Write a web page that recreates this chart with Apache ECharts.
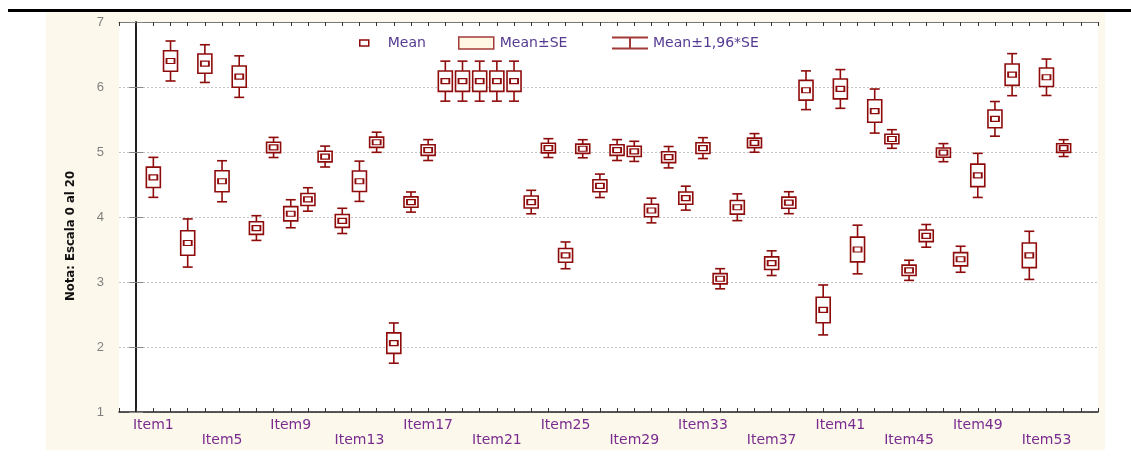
<!DOCTYPE html>
<html>
<head>
<meta charset="utf-8">
<title>Nota por item</title>
<script src="https://cdn.jsdelivr.net/npm/echarts@6/dist/echarts.min.js"></script>
<style>
  html, body { margin: 0; padding: 0; background: #fff; }
  #chart { width: 1131px; height: 460px; }
</style>
</head>
<body>
<div id="chart"></div>
<script>
// item names, means and standard errors
var ITEMS = [
  'Item1', 'Item2', 'Item3', 'Item4', 'Item5', 'Item6', 'Item7', 'Item8', 'Item9', 'Item10',
  'Item11', 'Item12', 'Item13', 'Item14', 'Item15', 'Item16', 'Item17', 'Item18', 'Item19', 'Item20',
  'Item21', 'Item22', 'Item23', 'Item24', 'Item25', 'Item26', 'Item27', 'Item28', 'Item29', 'Item30',
  'Item31', 'Item32', 'Item33', 'Item34', 'Item35', 'Item36', 'Item37', 'Item38', 'Item39', 'Item40',
  'Item41', 'Item42', 'Item43', 'Item44', 'Item45', 'Item46', 'Item47', 'Item48', 'Item49', 'Item50',
  'Item51', 'Item52', 'Item53', 'Item54'
];
var MEANS = [
  4.61, 6.40, 3.60, 6.36, 4.55, 6.16, 3.83, 5.07, 4.05, 4.27,
  4.93, 3.94, 4.55, 5.15, 2.06, 4.23, 5.03, 6.09, 6.09, 6.09,
  6.09, 6.09, 4.23, 5.06, 3.41, 5.05, 4.48, 5.03, 5.01, 4.10,
  4.92, 4.29, 5.06, 3.05, 4.15, 5.14, 3.29, 4.22, 5.95, 2.57,
  5.97, 3.50, 5.63, 5.20, 3.18, 3.71, 4.99, 3.35, 4.64, 5.51,
  6.19, 3.41, 6.15, 5.06
];
var SE = [
  0.157, 0.157, 0.189, 0.148, 0.161, 0.163, 0.097, 0.079, 0.110, 0.092,
  0.082, 0.099, 0.158, 0.079, 0.158, 0.079, 0.082, 0.157, 0.157, 0.157,
  0.157, 0.157, 0.092, 0.074, 0.105, 0.071, 0.092, 0.082, 0.079, 0.097,
  0.084, 0.094, 0.082, 0.079, 0.105, 0.073, 0.097, 0.086, 0.152, 0.196,
  0.152, 0.191, 0.173, 0.073, 0.079, 0.089, 0.071, 0.102, 0.173, 0.136,
  0.165, 0.189, 0.143, 0.066
];
var Y_TICKS = [1, 2, 3, 4, 5, 6, 7];

var RED = '#8e0b0b';
var LEGEND_TXT = '#553a92';

var meanData = [], boxData = [], whiskData = [];
for (var i = 0; i < ITEMS.length; i++) {
  var x = i + 1;
  meanData.push([x, MEANS[i]]);
  boxData.push([x, MEANS[i] - SE[i], MEANS[i] + SE[i]]);
  whiskData.push([x, MEANS[i] - 1.96 * SE[i], MEANS[i] + 1.96 * SE[i]]);
}

function renderWhisker(params, api) {
  var x = api.value(0);
  var lo = api.coord([x, api.value(1)]);
  var hi = api.coord([x, api.value(2)]);
  var cap = 5;
  var st = { stroke: RED, lineWidth: 1.6 };
  return {
    type: 'group',
    children: [
      { type: 'line', shape: { x1: lo[0], y1: lo[1], x2: hi[0], y2: hi[1] }, style: st },
      { type: 'line', shape: { x1: lo[0] - cap, y1: lo[1], x2: lo[0] + cap, y2: lo[1] }, style: st },
      { type: 'line', shape: { x1: hi[0] - cap, y1: hi[1], x2: hi[0] + cap, y2: hi[1] }, style: st }
    ]
  };
}

function renderBox(params, api) {
  var x = api.value(0);
  var lo = api.coord([x, api.value(1)]);
  var hi = api.coord([x, api.value(2)]);
  var w = 14;
  return {
    type: 'rect',
    shape: { x: lo[0] - w / 2, y: hi[1], width: w, height: lo[1] - hi[1] },
    style: { fill: '#fff', stroke: RED, lineWidth: 1.6 }
  };
}

var chart = echarts.init(document.getElementById('chart'));

var option = {
  backgroundColor: '#fff',
  animation: false,
  graphic: [
    { type: 'rect', z: -100, silent: true, shape: { x: 46, y: 12, width: 1059, height: 438 }, style: { fill: '#fdf8ec' } },
    { type: 'rect', z: -99, silent: true, shape: { x: 8, y: 9, width: 1123, height: 3 }, style: { fill: '#000' } }
  ],
  grid: {
    left: 119, right: 33, top: 22, bottom: 48,
    show: true, backgroundColor: '#fff', borderWidth: 0
  },
  legend: [
    {
      data: ['Mean'], selectedMode: false, left: 354, top: 31,
      icon: 'rect', itemWidth: 9, itemHeight: 6,
      itemStyle: { color: '#fff', borderColor: RED, borderWidth: 1.5 },
      textStyle: { color: LEGEND_TXT, fontFamily: 'DejaVu Sans', fontSize: 14, padding: [0, 0, 0, 14] }
    },
    {
      data: ['Mean±SE'], selectedMode: false, left: 453, top: 31,
      icon: 'rect', itemWidth: 35, itemHeight: 12,
      itemStyle: { color: '#fff6e4', borderColor: '#a23a3a', borderWidth: 1.5 },
      textStyle: { color: LEGEND_TXT, fontFamily: 'DejaVu Sans', fontSize: 14, padding: [0, 0, 0, 1] }
    },
    {
      data: ['Mean±1,96*SE'], selectedMode: false, left: 607, top: 31,
      icon: 'path://M0,0H36V2H0Z M17,2H19V11H17Z M0,11H36V13H0Z',
      itemWidth: 36, itemHeight: 13,
      itemStyle: { color: '#a23a3a', borderWidth: 0 },
      textStyle: { color: LEGEND_TXT, fontFamily: 'DejaVu Sans', fontSize: 14 }
    }
  ],
  xAxis: [
    {
      type: 'value', min: -1, max: 56, interval: 1,
      axisLine: { lineStyle: { color: '#222', width: 1.5 } },
      axisTick: { inside: true, length: 4, lineStyle: { color: '#333' } },
      splitLine: { show: false },
      axisLabel: {
        margin: 6, color: '#7a2c8e', fontFamily: 'DejaVu Sans', fontSize: 14, lineHeight: 15,
        formatter: function (v) {
          var n = Math.round(v);
          if (n < 1 || n > ITEMS.length || (n - 1) % 4) return '';
          return (n - 1) % 8 === 0 ? ITEMS[n - 1] : '\n' + ITEMS[n - 1];
        }
      }
    },
    {
      type: 'value', position: 'top', min: -1, max: 56, interval: 1,
      axisLine: { lineStyle: { color: '#777', width: 1 } },
      axisTick: { inside: true, length: 4, lineStyle: { color: '#333' } },
      axisLabel: { show: false },
      splitLine: { show: false }
    }
  ],
  yAxis: [
    {
      type: 'value', min: Y_TICKS[0], max: Y_TICKS[Y_TICKS.length - 1], interval: 1,
      name: 'Nota: Escala 0 al 20', nameLocation: 'middle', nameGap: 42,
      nameTextStyle: {
        color: '#111', fontWeight: 'bold', fontSize: 13,
        fontFamily: '"Liberation Sans Narrow", "DejaVu Sans Condensed", "Liberation Sans", sans-serif',
        padding: [0, 38, 0, 0]
      },
      axisLine: { show: true, lineStyle: { color: '#111', width: 1.5 } },
      axisTick: { show: true, inside: true, length: 7, lineStyle: { color: '#888' } },
      axisLabel: { margin: 15, color: '#808080', fontFamily: 'Liberation Sans', fontSize: 13 },
      splitLine: { show: true, lineStyle: { color: '#c4c4c4', type: [2, 2], width: 1 } }
    },
    {
      type: 'value', position: 'right', min: Y_TICKS[0], max: Y_TICKS[Y_TICKS.length - 1], interval: 1,
      axisLine: { show: true, lineStyle: { color: '#111', width: 1.5 } },
      axisTick: { show: true, inside: true, length: 7, lineStyle: { color: '#888' } },
      axisLabel: { show: false },
      splitLine: { show: false }
    }
  ],
  series: [
    {
      name: 'Mean±1,96*SE', type: 'custom', renderItem: renderWhisker,
      data: whiskData, encode: { x: 0, y: [1, 2] }, z: 2
    },
    {
      name: 'Mean±SE', type: 'custom', renderItem: renderBox,
      data: boxData, encode: { x: 0, y: [1, 2] }, z: 3
    },
    {
      name: 'Mean', type: 'scatter', data: meanData, z: 4,
      symbol: 'rect', symbolSize: [8, 5],
      itemStyle: { color: '#fff', borderColor: RED, borderWidth: 1.5, opacity: 1 }
    }
  ]
};

chart.setOption(option);
</script>
</body>
</html>
